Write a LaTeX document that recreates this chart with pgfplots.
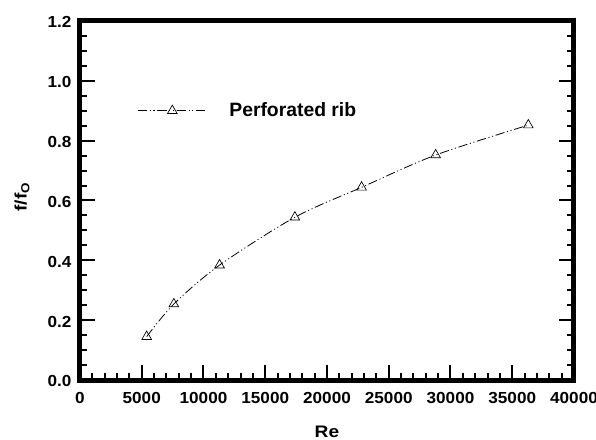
\documentclass[border=0pt]{standalone}
\usepackage{fontspec}
\setmainfont{Liberation Sans}
\newfontfamily\tickfont{Liberation Sans}[FakeStretch=1.07]
\newfontfamily\labfont{Liberation Sans}[FakeStretch=1.15]
\usepackage{pgfplots}
\pgfplotsset{compat=1.18}
\begin{document}
\begin{tikzpicture}
\begin{axis}[
 scale only axis, width=370.5pt, height=269.25pt,
 xmin=0, xmax=40000, ymin=0, ymax=1.2,
 xtick={0,5000,10000,15000,20000,25000,30000,35000,40000}, minor x tick num=4,
 ytick={0,0.2,0.4,0.6,0.8,1.0,1.2}, minor y tick num=3,
 xtick pos=lower, ytick pos=both,
 tick align=inside,
 major tick length=11pt, minor tick length=5.5pt,
 major tick style={black, line width=1.5pt},
 minor tick style={black, line width=1.5pt},
 axis line style={line width=3.75pt, line join=miter},
 scaled x ticks=false,
 xticklabel style={/pgf/number format/1000 sep={}, anchor=base, yshift=-17.5pt},
 yticklabel style={/pgf/number format/.cd, fixed, fixed zerofill, precision=1, /tikz/.cd, anchor=east, inner xsep=0pt, xshift=-6.2pt, yshift=-1pt},
 /pgf/number format/assume math mode=true,
 tick label style={font=\tickfont\bfseries\fontsize{12}{14}\selectfont},
 label style={font=\labfont\bfseries\fontsize{12.5}{14}\selectfont},
 xlabel={Re}, ylabel={f/f\textsubscript{O}},
 xlabel style={at={(axis description cs:0.5,0)}, anchor=base, yshift=-42.75pt},
 ylabel style={at={(axis description cs:-0.108,0.51)}, anchor=base, rotate=0},
 legend image code/.code={\draw[mark repeat=2, mark phase=2, #1] plot coordinates {(0pt,0pt) (26pt,0pt) (52.5pt,0pt)};},
 legend style={at={(axis cs:4615,0.9)}, anchor=west, draw=none, fill=none, inner sep=0pt, nodes={inner sep=0pt}, font=\bfseries\fontsize{14.5}{16}\selectfont},
]
\addplot[black, line width=0.6pt, smooth, dash pattern=on 7pt off 2pt on 0.8pt off 2pt on 0.8pt off 2pt, mark=triangle, mark size=4.2pt, mark options={solid, fill=white, line width=0.5pt}] coordinates {(5400,0.145) (7600,0.254) (11300,0.384) (17400,0.544) (22800,0.644) (28800,0.752) (36300,0.852)};
\addlegendentry{\hspace{16pt}Perforated rib}
\end{axis}
\pgfresetboundingbox
\path (current axis.south west) ++(-60pt,-44.25pt) rectangle ++(447pt,329.25pt);
\end{tikzpicture}
\end{document}
